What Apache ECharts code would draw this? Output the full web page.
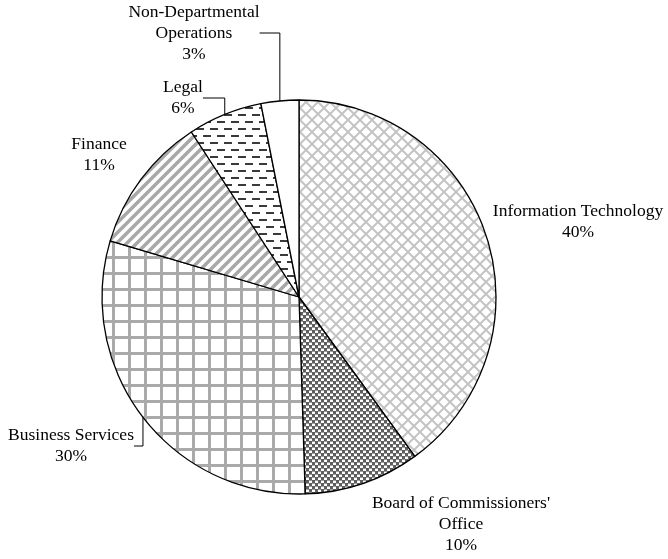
<!DOCTYPE html>
<html>
<head>
<meta charset="utf-8">
<script src="https://cdn.jsdelivr.net/npm/echarts@6/dist/echarts.min.js"></script>
<style>
  html, body { margin: 0; padding: 0; background: #fff; }
  #chart { width: 668px; height: 559px; }
</style>
</head>
<body>
<div id="chart"></div>
<script>
  const categories = [
    'Information Technology',
    "Board of Commissioners'\nOffice",
    'Business Services',
    'Finance',
    'Legal',
    'Non-Departmental\nOperations',
  ];
  const shares = [40.0, 9.5, 30.1, 11.2, 6.1, 3.1];
  const shareText = ['40%', '10%', '30%', '11%', '6%', '3%'];

  // where each label block sits (centre)
  const labelSpots = [
    [578, 222],
    [461, 524],
    [71, 446],
    [99, 155],
    [183, 98],
    [194, 33],
  ];

  function tile(w, h, draw) {
    const c = document.createElement('canvas');
    c.width = w;
    c.height = h;
    const ctx = c.getContext('2d');
    ctx.fillStyle = '#fff';
    ctx.fillRect(0, 0, w, h);
    draw(ctx);
    return { image: c, repeat: 'repeat' };
  }

  const lattice = tile(12, 12, (ctx) => {
    ctx.strokeStyle = '#c4c4c4';
    ctx.lineWidth = 2;
    ctx.beginPath();
    ctx.moveTo(-1, -1); ctx.lineTo(13, 13);
    ctx.moveTo(-1, 13); ctx.lineTo(13, -1);
    ctx.stroke();
  });

  const checker = tile(6, 6, (ctx) => {
    ctx.fillStyle = '#5e5e5e';
    ctx.fillRect(0, 0, 3, 3);
    ctx.fillRect(3, 3, 3, 3);
    ctx.fillStyle = '#a0a0a0';
    ctx.fillRect(3, 0, 3, 1);
    ctx.fillRect(0, 3, 3, 1);
  });

  const grid = tile(16, 16, (ctx) => {
    ctx.fillStyle = '#aaaaaa';
    ctx.fillRect(0, 0, 3, 16);
    ctx.fillRect(0, 0, 16, 3);
  });

  const stripes = tile(10, 10, (ctx) => {
    ctx.strokeStyle = '#a8a8a8';
    ctx.lineWidth = 3.5;
    ctx.beginPath();
    ctx.moveTo(-2, 12); ctx.lineTo(12, -2);
    ctx.moveTo(-2, 2); ctx.lineTo(2, -2);
    ctx.moveTo(8, 12); ctx.lineTo(12, 8);
    ctx.stroke();
  });

  const dashes = tile(14, 14, (ctx) => {
    ctx.fillStyle = '#3a3a3a';
    ctx.fillRect(0, 2, 8, 2);
    ctx.fillRect(7, 9, 7, 2);
    ctx.fillRect(0, 9, 1, 2);
  });

  const fills = [lattice, checker, grid, stripes, dashes, '#ffffff'];
  const showLine = [false, false, true, false, true, true];

  const chart = echarts.init(document.getElementById('chart'));

  chart.setOption({
    animation: false,
    series: [
      {
        type: 'pie',
        center: [299, 297],
        radius: 197,
        startAngle: 90,
        clockwise: true,
        avoidLabelOverlap: false,
        itemStyle: {
          borderColor: '#000',
          borderWidth: 1.3,
        },
        label: {
          show: true,
          position: 'outside',
          formatter: (p) => p.name + '\n' + shareText[p.dataIndex],
          fontFamily: '"Liberation Serif", "Times New Roman", serif',
          fontSize: 17.5,
          lineHeight: 21,
          color: '#000',
          align: 'center',
        },
        labelLine: {
          lineStyle: { color: '#000', width: 1 },
        },
        labelLayout: (params) => {
          const spot = labelSpots[params.dataIndex];
          return {
            x: spot[0],
            y: spot[1],
            align: 'center',
            verticalAlign: 'middle',
          };
        },
        data: categories.map((name, i) => ({
          name,
          value: shares[i],
          itemStyle: { color: fills[i] },
          labelLine: { show: showLine[i] },
        })),
      },
    ],
  });
</script>
</body>
</html>
